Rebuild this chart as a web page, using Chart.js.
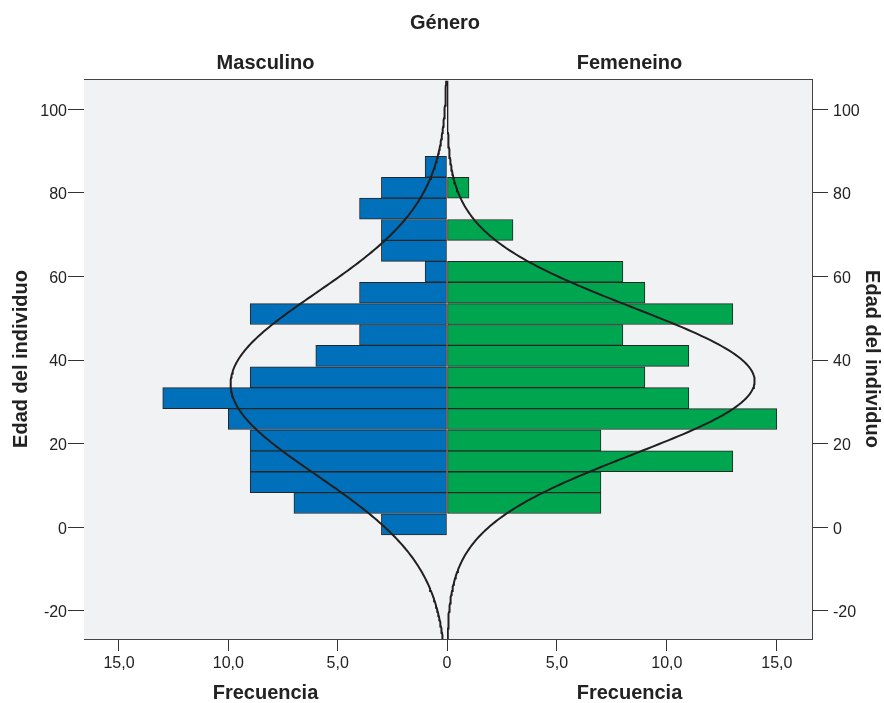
<!DOCTYPE html>
<html>
<head>
<meta charset="utf-8">
<script src="https://cdn.jsdelivr.net/npm/chart.js@4.4.1/dist/chart.umd.min.js"></script>
<style>
  html, body { margin: 0; padding: 0; background: #ffffff; }
  #wrap { position: relative; width: 884px; height: 703px; overflow: hidden; }
  #wrap canvas { position: absolute; left: 0; top: 0; }
  #heading {
    position: absolute; left: 0; top: 10px; width: 890px; text-align: center;
    font: bold 20px "Liberation Sans", Arial, sans-serif; line-height: 24px; color: #222;
  }
</style>
</head>
<body>
<div id="wrap">
  <canvas id="male" width="884" height="703"></canvas>
  <canvas id="female" width="884" height="703"></canvas>
  <div id="heading">Género</div>
</div>
<script>
// Age histogram bins (bin centres, years) and counts per gender
const ageBins      = [0.7, 5.8, 10.8, 15.8, 20.8, 25.9, 30.9, 35.9, 41.0, 46.0, 51.0, 56.1, 61.1, 66.1, 71.1, 76.2, 81.2, 86.2];
const binWidth     = 5.03;
const maleCounts   = [3, 7, 9, 9, 9, 10, 13, 9, 6, 4, 9, 4, 1, 3, 3, 4, 3, 1];
const femaleCounts = [0, 7, 7, 13, 7, 15, 11, 9, 11, 8, 13, 9, 8, 0, 3, 0, 1, 0];

// Fitted normal curves (mean, standard deviation, number of cases)
const maleFit   = { mean: 34.3, sd: 21.7, n: 107 };
const femaleFit = { mean: 35.0, sd: 17.5, n: 122 };

// Axis ranges and tick values
const ageMin = -26.7, ageMax = 107.2;
const ageTicks = [-20, 0, 20, 40, 60, 80, 100];
const freqMax = 16.6;
const freqTicks = [0, 5, 10, 15];

const FONT = '"Liberation Sans", Arial, sans-serif';
Chart.defaults.font.family = FONT;
Chart.defaults.color = '#222';

function normalCurve(fit) {
  const pts = [];
  const scale = fit.n * binWidth / (fit.sd * Math.sqrt(2 * Math.PI));
  for (let a = ageMin; a <= ageMax + 0.001; a += 0.5) {
    const z = (a - fit.mean) / fit.sd;
    pts.push({ x: scale * Math.exp(-0.5 * z * z), y: a });
  }
  return pts;
}

function fmtFreq(v) {
  return v === 0 ? '0' : v.toFixed(1).replace('.', ',');
}

// Plot background and top frame line
const frame = {
  id: 'frame',
  beforeDatasetsDraw(chart) {
    const { ctx, chartArea: a } = chart;
    ctx.save();
    ctx.fillStyle = '#f1f2f4';
    ctx.fillRect(a.left, a.top, a.right - a.left, a.bottom - a.top);
    ctx.restore();
  },
  afterDraw(chart) {
    const { ctx, chartArea: a } = chart;
    ctx.save();
    ctx.strokeStyle = '#444';
    ctx.lineWidth = 1;
    ctx.beginPath();
    ctx.moveTo(a.left, a.top + 0.5);
    ctx.lineTo(a.right, a.top + 0.5);
    ctx.stroke();
    ctx.restore();
  }
};

function makePanel(id, label, counts, fit, color, side) {
  const left = side === 'left';
  return new Chart(document.getElementById(id), {
    type: 'bar',
    data: {
      datasets: [
        {
          type: 'line',
          data: normalCurve(fit),
          borderColor: '#231f20',
          borderWidth: 2,
          pointRadius: 0,
          tension: 0,
          indexAxis: 'y',
          order: 0
        },
        {
          type: 'bar',
          data: ageBins.map((a, i) => ({ x: counts[i], y: a })),
          backgroundColor: color,
          borderColor: '#262626',
          borderWidth: 1,
          borderSkipped: false,
          categoryPercentage: 1,
          barPercentage: 1,
          order: 1
        }
      ]
    },
    options: {
      indexAxis: 'y',
      responsive: false,
      animation: false,
      events: [],
      layout: { padding: left ? { left: 0, right: 437, top: 0, bottom: 0 } : { left: 447, right: 0, top: 0, bottom: 0 } },
      plugins: {
        legend: { display: false },
        tooltip: { enabled: false },
        title: {
          display: true,
          text: label,
          fullSize: false,
          color: '#222',
          font: { size: 20, weight: 'bold', lineHeight: 1.2 },
          padding: { top: 51, bottom: 4 }
        }
      },
      scales: {
        x: {
          type: 'linear',
          reverse: left,
          min: 0,
          max: freqMax,
          afterBuildTicks: s => { s.ticks = freqTicks.map(v => ({ value: v })); },
          afterFit: s => { s.height = 64; },
          ticks: {
            font: { size: 16 },
            color: '#222',
            padding: 3,
            maxRotation: 0,
            callback: v => (left && v === 0) ? '' : fmtFreq(v)
          },
          grid: { drawOnChartArea: false, drawTicks: true, tickLength: 12, color: '#333' },
          border: { display: true, color: '#444', width: 1 },
          title: {
            display: true,
            text: 'Frecuencia',
            color: '#222',
            font: { size: 20, weight: 'bold', lineHeight: 1.2 },
            padding: { top: 0, bottom: -2 }
          }
        },
        y: {
          type: 'linear',
          position: side,
          offset: false,
          min: ageMin,
          max: ageMax,
          afterBuildTicks: s => { s.ticks = ageTicks.map(v => ({ value: v })); },
          afterFit: s => { s.width = left ? 84 : 72; },
          ticks: {
            font: { size: 16 },
            color: '#222',
            padding: left ? 1 : 5,
            labelOffset: 2,
            callback: v => String(v)
          },
          grid: { offset: false, drawOnChartArea: false, drawTicks: true, tickLength: 16, color: '#333' },
          border: { display: true, color: '#444', width: 1 },
          title: {
            display: true,
            text: 'Edad del individuo',
            color: '#222',
            font: { size: 20, weight: 'bold', lineHeight: 1.2 },
            padding: { top: left ? 9 : 0, bottom: 0 }
          }
        }
      }
    },
    plugins: [frame]
  });
}

makePanel('male', 'Masculino', maleCounts, maleFit, '#0070ba', 'left');
makePanel('female', 'Femeneino', femaleCounts, femaleFit, '#00a54f', 'right');
</script>
</body>
</html>
